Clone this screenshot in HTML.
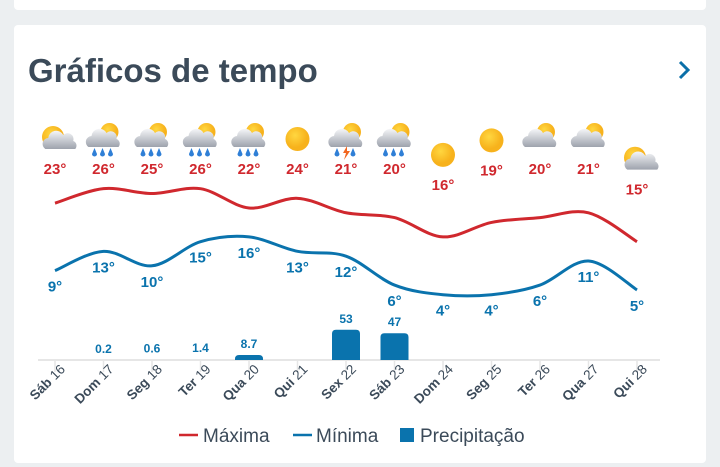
<!DOCTYPE html>
<html><head><meta charset="utf-8"><style>
html,body{margin:0;padding:0;background:#eceff1;width:720px;height:467px;overflow:hidden;font-family:"Liberation Sans",sans-serif}
.top{position:absolute;left:14px;top:-10px;width:692px;height:20px;background:#fff;border-radius:4px}
.card{position:absolute;left:14px;top:25px;width:692px;height:438px;background:#fff;border-radius:4px}
h1{position:absolute;left:14px;top:27px;margin:0;font-size:33px;font-weight:bold;color:#3b4a59}
svg{position:absolute;left:0;top:0}
</style></head><body>
<div class="top"></div>
<div class="card"><h1>Gráficos de tempo</h1></div>
<svg id="c" width="720" height="467" xmlns="http://www.w3.org/2000/svg">
<defs>
<radialGradient id="sun" cx="0.4" cy="0.35"><stop offset="0" stop-color="#ffd740"/><stop offset="1" stop-color="#f7b21c"/></radialGradient>
<linearGradient id="cl" x1="0" y1="0" x2="0" y2="1"><stop offset="0" stop-color="#f5f6f8"/><stop offset="1" stop-color="#9ea3ad"/></linearGradient>
</defs>
<path d="M680 62 L688 70 L680 78" fill="none" stroke="#0a6fa8" stroke-width="3"/>
</svg>
<script>
const days=["Sáb","Dom","Seg","Ter","Qua","Qui","Sex","Sáb","Dom","Seg","Ter","Qua","Qui"];
const dates=["16","17","18","19","20","21","22","23","24","25","26","27","28"];
const maxT=[23,26,25,26,22,24,21,20,16,19,20,21,15];
const minT=[9,13,10,15,16,13,12,6,4,4,6,11,5];
const precip=[null,0.2,0.6,1.4,8.7,null,53,47,null,null,null,null,null];
const icons=["pc","rain","rain","rain","rain","sun","storm","rain","sun","sun","cloud","cloud","pc"];
const svg=document.getElementById('c');const NS="http://www.w3.org/2000/svg";
function x(i){return 55+i*48.5;}
function yT(t){return 314-4.82*t;}
function yP(p){return 360-p*0.57;}
function mk(t,a,p){const e=document.createElementNS(NS,t);for(const k in a)e.setAttribute(k,a[k]);(p||svg).appendChild(e);return e;}
function path(vals,col,name){let d="";const pts=vals.map((v,i)=>[x(i),yT(v)]);
for(let i=0;i<pts.length;i++){if(!i){d="M"+pts[0];continue;}
const p0=pts[Math.max(i-2,0)],p1=pts[i-1],p2=pts[i],p3=pts[Math.min(i+1,pts.length-1)];
const c1=[p1[0]+(p2[0]-p0[0])/6,p1[1]+(p2[1]-p0[1])/6],c2=[p2[0]-(p3[0]-p1[0])/6,p2[1]-(p3[1]-p1[1])/6];
d+=" C"+c1+" "+c2+" "+p2;}
const e=mk('path',{d:d,fill:'none',stroke:col,'stroke-width':3});

}
const ax=mk('line',{x1:38,x2:660,y1:360,y2:360,stroke:'#e6e6e6','stroke-width':2});


path(maxT,'#d0282e','max-temp-line');
path(minT,'#0a73ad','min-temp-line');
function cloud(cx,cy,g,s){mk('path',{d:`M${cx-15*s} ${cy+7*s} a6 6 0 0 1 3-11 a8 8 0 0 1 15-3 a6 6 0 0 1 10 6 a5 5 0 0 1 2 8 z`,fill:'url(#cl)'},g);}
function icon(type,cx,cy,g){
 if(type==="sun"){mk('circle',{cx:cx,cy:cy,r:12,fill:'url(#sun)'},g);return;}
 if(type==="pc"){mk('circle',{cx:cx-2,cy:cy-2,r:11,fill:'url(#sun)'},g);cloud(cx+3,cy+4,g,0.85);return;}
 mk('circle',{cx:cx+6,cy:cy-7,r:9,fill:'url(#sun)'},g);
 cloud(cx,cy+1,g,1);
 if(type==="rain"||type==="storm"){for(let k=0;k<3;k++){if(type==="storm"&&k==1){mk('path',{d:`M${cx+1} ${cy+7} l-4 7 h3 l-2 7 l6 -9 h-3 z`,fill:'#f2661f'},g);continue;}
 mk('path',{d:`M${cx-9+k*8} ${cy+9} l-2.5 6 a2.5 2.5 0 0 0 5 0 z`,fill:'#2f7fd6'},g);}}
}
for(let i=0;i<days.length;i++){
 const X=x(i);
 const ly=Math.max(168,yT(maxT[i])-53);
 const g=mk('g',{});
 
 
 icon(icons[i],X,ly-29,g);
 const t=mk('text',{x:X,y:ly+6,'text-anchor':'middle','font-size':15,'font-weight':'bold',fill:'#d0282e'});t.textContent=maxT[i]+"°";
 
 
 const t2=mk('text',{x:X,y:yT(minT[i])+21,'text-anchor':'middle','font-size':15,'font-weight':'bold',fill:'#0a73ad'});t2.textContent=minT[i]+"°";
 
 
 if(precip[i]!==null){
  const top=yP(precip[i]);const h=360-top;
  if(h>1){const b=mk('path',{d:`M${X-14} 360 V${top+4} q0 -4 4 -4 h20 q4 0 4 4 V360 z`,fill:'#0a73ad'});
   
   }
  const pl=mk('text',{x:X,y:top-7,'text-anchor':'middle','font-size':12,'font-weight':'bold',fill:'#0a73ad'});pl.textContent=String(precip[i]);
  
  }
 const tk=mk('line',{x1:X,x2:X,y1:360,y2:372,stroke:'#e6e6e6','stroke-width':1.5});
 
 
 const xl=mk('text',{transform:`translate(${X+11},370) rotate(-45)`,'text-anchor':'end','font-size':13.5,fill:'#3b4a59'});
 xl.innerHTML=`<tspan font-weight="bold">${days[i]}</tspan> ${dates[i]}`;
 
 
}
const lg=mk('g',{});


mk('line',{x1:179,x2:198,y1:435,y2:435,stroke:'#d0282e','stroke-width':2.5},lg);
let a=mk('text',{x:203,y:442,'font-size':19,fill:'#3b4a59'},lg);a.textContent="Máxima";
mk('line',{x1:293,x2:312,y1:435,y2:435,stroke:'#0a73ad','stroke-width':2.5},lg);
a=mk('text',{x:316,y:442,'font-size':19,fill:'#3b4a59'},lg);a.textContent="Mínima";
mk('rect',{x:400,y:428,width:14,height:14,fill:'#0a73ad'},lg);
a=mk('text',{x:420,y:442,'font-size':19,fill:'#3b4a59'},lg);a.textContent="Precipitação";
</script>
</body></html>
